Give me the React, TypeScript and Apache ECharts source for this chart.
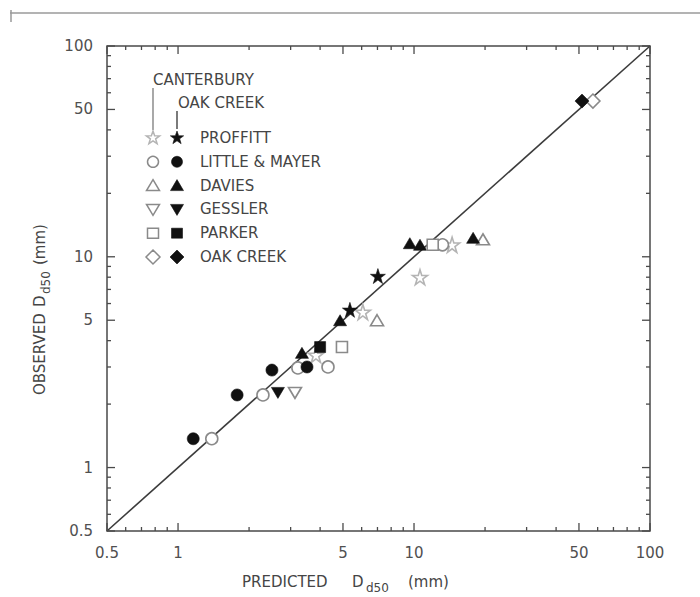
import React, { useEffect, useRef } from "react";
import * as echarts from "echarts";

type Pt = [number, number];

// Predicted vs observed D50 (mm); each method is shown for Oak Creek (filled) and Canterbury (open)
const proffittOakCreek: Pt[] = [[5.35, 5.6], [7.03, 8.1]];
const proffittCanterbury: Pt[] = [[3.84, 3.42], [6.07, 5.47], [10.6, 8.0], [14.5, 11.4]];
const littleMayerOakCreek: Pt[] = [[1.16, 1.37], [1.78, 2.21], [2.5, 2.9], [3.52, 3.0]];
const littleMayerCanterbury: Pt[] = [[1.39, 1.37], [2.29, 2.21], [3.22, 2.97], [4.32, 3.0], [13.2, 11.4]];
const daviesOakCreek: Pt[] = [[3.35, 3.5], [4.86, 5.0], [9.6, 11.6], [10.6, 11.4], [17.8, 12.3]];
const daviesCanterbury: Pt[] = [[6.97, 5.0], [19.6, 12.1]];
const gesslerOakCreek: Pt[] = [[2.65, 2.26]];
const gesslerCanterbury: Pt[] = [[3.13, 2.26]];
const parkerOakCreek: Pt[] = [[4.0, 3.73]];
const parkerCanterbury: Pt[] = [[4.95, 3.73], [12.0, 11.4]];
const oakCreekOakCreek: Pt[] = [[51.5, 54.8]];
const oakCreekCanterbury: Pt[] = [[57.3, 54.8]];

// 1:1 line
const equalityLine: Pt[] = [[0.5, 0.5], [100, 100]];

const axisMin = 0.5;
const axisMax = 100;
const majorTicks = [0.5, 1, 5, 10, 50, 100];
const tickLabels = ["0.5", "1", "5", "10", "50", "100"];
const minorTicks = [0.6, 0.7, 0.8, 0.9, 2, 3, 4, 6, 7, 8, 9, 20, 30, 40, 60, 70, 80, 90];

const methodNames = ["PROFFITT", "LITTLE & MAYER", "DAVIES", "GESSLER", "PARKER", "OAK CREEK"];
const methodShapes = ["star", "circle", "triangle", "down", "square", "diamond"];

const FONT = "DejaVu Sans";
const INK = "#111111";
const OPEN = "#8a8a8a";
const OPEN_LIGHT = "#b4b4b4";
const TEXT = "#454545";

const STAR_PATH =
  "path://M0,-1L0.2245,-0.309L0.951,-0.309L0.363,0.118L0.588,0.809L0,0.382L-0.588,0.809L-0.363,0.118L-0.951,-0.309L-0.2245,-0.309Z";

function symbolFor(shape: string): string {
  switch (shape) {
    case "star":
      return STAR_PATH;
    case "circle":
      return "circle";
    case "triangle":
    case "down":
      return "triangle";
    case "square":
      return "rect";
    default:
      return "diamond";
  }
}

function sizeFor(shape: string): number | number[] {
  switch (shape) {
    case "star":
      return 15;
    case "circle":
      return 12;
    case "triangle":
    case "down":
      return [13, 11];
    case "square":
      return 11;
    default:
      return 14;
  }
}

function scatterSeries(name: string, data: Pt[], shape: string, filled: boolean) {
  const light = !filled && shape === "star";
  return {
    name,
    type: "scatter",
    data,
    symbol: symbolFor(shape),
    symbolSize: sizeFor(shape),
    symbolRotate: shape === "down" ? 180 : 0,
    z: 4,
    itemStyle: filled
      ? { color: INK, borderColor: INK, borderWidth: 0.6, opacity: 1 }
      : { color: "#ffffff", borderColor: light ? OPEN_LIGHT : OPEN, borderWidth: 1.6, opacity: 1 },
  };
}

// legend glyphs drawn as plain graphic shapes
function starPoints(cx: number, cy: number, r: number): number[][] {
  const pts: number[][] = [];
  for (let k = 0; k < 10; k++) {
    const a = (-90 + k * 36) * (Math.PI / 180);
    const rr = k % 2 === 0 ? r : r * 0.4;
    pts.push([cx + rr * Math.cos(a), cy + rr * Math.sin(a)]);
  }
  return pts;
}

function legendGlyph(shape: string, cx: number, cy: number, filled: boolean) {
  const light = !filled && shape === "star";
  const style = filled
    ? { fill: INK, stroke: INK, lineWidth: 0.6 }
    : { fill: "#ffffff", stroke: light ? OPEN_LIGHT : OPEN, lineWidth: 1.5 };
  switch (shape) {
    case "star":
      return { type: "polygon", shape: { points: starPoints(cx, cy, 7) }, style };
    case "circle":
      return { type: "circle", shape: { cx, cy, r: 5.5 }, style };
    case "triangle":
      return { type: "polygon", shape: { points: [[cx, cy - 6], [cx + 6.5, cy + 5], [cx - 6.5, cy + 5]] }, style };
    case "down":
      return { type: "polygon", shape: { points: [[cx - 6.5, cy - 5], [cx + 6.5, cy - 5], [cx, cy + 6]] }, style };
    case "square":
      return { type: "rect", shape: { x: cx - 5.5, y: cy - 5, width: 11, height: 10 }, style };
    default:
      return { type: "polygon", shape: { points: [[cx, cy - 7], [cx + 7, cy], [cx, cy + 7], [cx - 7, cy]] }, style };
  }
}

function buildGraphics() {
  const g: any[] = [];
  // scan border line at the top of the page
  g.push({ type: "line", shape: { x1: 10, y1: 13, x2: 700, y2: 13 }, style: { stroke: "#9a9a9a", lineWidth: 1.5 } });
  g.push({ type: "line", shape: { x1: 11, y1: 10, x2: 11, y2: 22 }, style: { stroke: "#9a9a9a", lineWidth: 1.5 } });

  const textStyle = (text: string, size = 15, fill = TEXT) => ({
    text,
    fill,
    fontSize: size,
    fontFamily: FONT,
  });

  // legend headers with leader lines
  g.push({ type: "text", x: 153, y: 80, style: { ...textStyle("CANTERBURY", 15), verticalAlign: "middle" } });
  g.push({ type: "text", x: 178, y: 103, style: { ...textStyle("OAK CREEK", 15), verticalAlign: "middle" } });
  g.push({ type: "line", shape: { x1: 153, y1: 88, x2: 153, y2: 130 }, style: { stroke: "#7a7a7a", lineWidth: 1.3 } });
  g.push({ type: "line", shape: { x1: 177, y1: 111, x2: 177, y2: 129 }, style: { stroke: "#333", lineWidth: 1.3 } });

  const rowTop = 138;
  const rowGap = 23.8;
  methodNames.forEach((name, i) => {
    const y = rowTop + i * rowGap;
    g.push(legendGlyph(methodShapes[i], 153, y, false));
    g.push(legendGlyph(methodShapes[i], 177, y, true));
    g.push({ type: "text", x: 200, y, style: { ...textStyle(name, 15), verticalAlign: "middle" } });
  });

  // x axis title with subscript
  const xt = 582;
  g.push({ type: "text", x: 242, y: xt, style: { ...textStyle("PREDICTED"), verticalAlign: "middle" } });
  g.push({ type: "text", x: 352, y: xt, style: { ...textStyle("D"), verticalAlign: "middle" } });
  g.push({ type: "text", x: 366, y: xt + 6, style: { ...textStyle("d50", 12), verticalAlign: "middle" } });
  g.push({ type: "text", x: 408, y: xt, style: { ...textStyle("(mm)"), verticalAlign: "middle" } });

  // y axis title, rotated to read bottom-to-top
  g.push({
    type: "group",
    x: 40,
    y: 395,
    rotation: Math.PI / 2,
    children: [
      { type: "text", x: 0, y: 0, style: { ...textStyle("OBSERVED"), verticalAlign: "middle" } },
      { type: "text", x: 88, y: 0, style: { ...textStyle("D"), verticalAlign: "middle" } },
      { type: "text", x: 101, y: 6, style: { ...textStyle("d50", 12), verticalAlign: "middle" } },
      { type: "text", x: 130, y: 0, style: { ...textStyle("(mm)"), verticalAlign: "middle" } },
    ],
  });
  return g;
}

const tickValues = [...majorTicks, ...minorTicks];

function frameTicksSeries() {
  return {
    type: "custom",
    data: tickValues.map((v) => [v, v]),
    clip: false,
    silent: true,
    z: 3,
    renderItem: (params: any, api: any) => {
      const i = params.dataIndex;
      const v = tickValues[i];
      const major = i < majorTicks.length;
      const len = major ? 8 : 4;
      const b = api.coord([v, axisMin]);
      const t = api.coord([v, axisMax]);
      const l = api.coord([axisMin, v]);
      const r = api.coord([axisMax, v]);
      const st = { stroke: "#4a4a4a", lineWidth: 1.3 };
      const children: any[] = [
        { type: "line", shape: { x1: b[0], y1: b[1], x2: b[0], y2: b[1] - len }, style: st },
        { type: "line", shape: { x1: t[0], y1: t[1], x2: t[0], y2: t[1] + len }, style: st },
        { type: "line", shape: { x1: l[0], y1: l[1], x2: l[0] + len, y2: l[1] }, style: st },
        { type: "line", shape: { x1: r[0], y1: r[1], x2: r[0] - len, y2: r[1] }, style: st },
      ];
      if (major) {
        const label = tickLabels[i];
        children.push({
          type: "text",
          x: b[0],
          y: b[1] + 22,
          style: { text: label, fill: "#505050", fontSize: 15, fontFamily: FONT, align: "center", verticalAlign: "middle" },
        });
        children.push({
          type: "text",
          x: l[0] - 14,
          y: l[1],
          style: { text: label, fill: "#505050", fontSize: 15, fontFamily: FONT, align: "right", verticalAlign: "middle" },
        });
      }
      return { type: "group", children };
    },
  };
}

function buildOption() {
  const hiddenLogAxis = {
    type: "log",
    logBase: 10,
    min: axisMin,
    max: axisMax,
    axisLine: { show: false },
    axisTick: { show: false },
    axisLabel: { show: false },
    splitLine: { show: false },
  };
  return {
    animation: false,
    backgroundColor: "#ffffff",
    grid: {
      left: 107,
      top: 46,
      width: 543,
      height: 485,
      show: true,
      borderColor: "#4a4a4a",
      borderWidth: 1.5,
      backgroundColor: "transparent",
    },
    xAxis: hiddenLogAxis,
    yAxis: hiddenLogAxis,
    graphic: buildGraphics(),
    series: [
      {
        name: "1:1",
        type: "line",
        data: equalityLine,
        symbol: "none",
        z: 2,
        lineStyle: { color: "#3c3c3c", width: 1.6 },
      },
      frameTicksSeries(),
      scatterSeries("PROFFITT (Canterbury)", proffittCanterbury, "star", false),
      scatterSeries("PROFFITT (Oak Creek)", proffittOakCreek, "star", true),
      scatterSeries("LITTLE & MAYER (Canterbury)", littleMayerCanterbury, "circle", false),
      scatterSeries("LITTLE & MAYER (Oak Creek)", littleMayerOakCreek, "circle", true),
      scatterSeries("DAVIES (Canterbury)", daviesCanterbury, "triangle", false),
      scatterSeries("DAVIES (Oak Creek)", daviesOakCreek, "triangle", true),
      scatterSeries("GESSLER (Canterbury)", gesslerCanterbury, "down", false),
      scatterSeries("GESSLER (Oak Creek)", gesslerOakCreek, "down", true),
      scatterSeries("PARKER (Canterbury)", parkerCanterbury, "square", false),
      scatterSeries("PARKER (Oak Creek)", parkerOakCreek, "square", true),
      scatterSeries("OAK CREEK (Canterbury)", oakCreekCanterbury, "diamond", false),
      scatterSeries("OAK CREEK (Oak Creek)", oakCreekOakCreek, "diamond", true),
    ],
  };
}

export default function App() {
  const ref = useRef<HTMLDivElement>(null);
  useEffect(() => {
    if (!ref.current) return;
    const chart = echarts.init(ref.current, undefined, { renderer: "svg" });
    chart.setOption(buildOption() as any);
    return () => chart.dispose();
  }, []);
  return (
    <div
      ref={ref}
      style={{ position: "absolute", left: 0, top: 0, width: 700, height: 597, background: "#fff" }}
    />
  );
}
